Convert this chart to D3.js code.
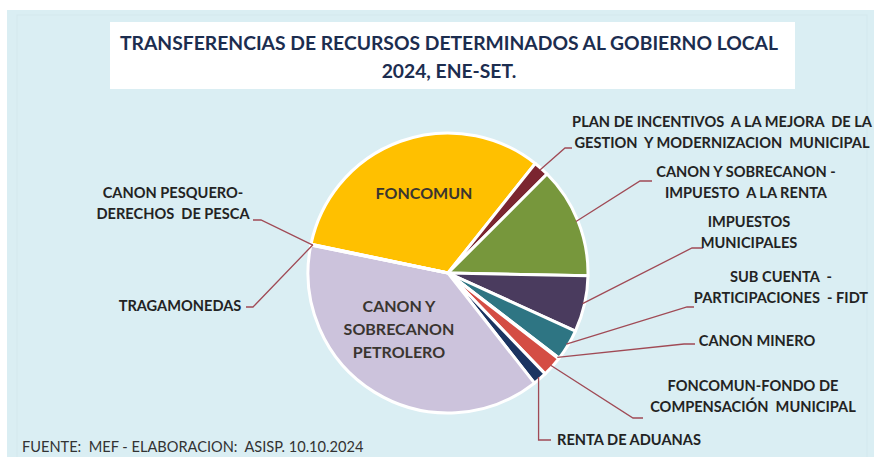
<!DOCTYPE html>
<html>
<head>
<meta charset="utf-8">
<script src="https://cdn.jsdelivr.net/npm/d3@7"></script>
<style>
  html, body { margin: 0; padding: 0; background: #ffffff; }
  svg { display: block; }
  text { white-space: pre; }
</style>
</head>
<body>
<svg id="chart" width="874" height="457"></svg>
<script>
// Transfer categories, clockwise from FONCOMUN
const categories = [
  "FONCOMUN",
  "PLAN DE INCENTIVOS A LA MEJORA DE LA GESTION Y MODERNIZACION MUNICIPAL",
  "CANON Y SOBRECANON - IMPUESTO A LA RENTA",
  "IMPUESTOS MUNICIPALES",
  "SUB CUENTA - PARTICIPACIONES - FIDT",
  "CANON MINERO",
  "FONCOMUN-FONDO DE COMPENSACIÓN MUNICIPAL",
  "RENTA DE ADUANAS",
  "CANON Y SOBRECANON PETROLERO",
  "CANON PESQUERO-DERECHOS DE PESCA",
  "TRAGAMONEDAS"
];
// Share of the total (%)
const shares = [32.4, 1.8, 12.8, 6.5, 3.6, 0.1, 2.3, 1.6, 38.8, 0.05, 0.05];
// Label text as printed, line by line
const labelLines = [
  ["FONCOMUN"],
  ["PLAN DE INCENTIVOS  A LA MEJORA  DE LA", "GESTION  Y MODERNIZACION  MUNICIPAL"],
  ["CANON Y SOBRECANON -", "IMPUESTO  A LA RENTA"],
  ["IMPUESTOS", "MUNICIPALES"],
  ["SUB CUENTA  -", "PARTICIPACIONES  - FIDT"],
  ["CANON MINERO"],
  ["FONCOMUN-FONDO DE", "COMPENSACIÓN  MUNICIPAL"],
  ["RENTA DE ADUANAS"],
  ["CANON Y", "SOBRECANON", "PETROLERO"],
  ["CANON PESQUERO-", "DERECHOS  DE PESCA"],
  ["TRAGAMONEDAS"]
];
const titleLines = ["TRANSFERENCIAS DE RECURSOS DETERMINADOS AL GOBIERNO LOCAL", "2024, ENE-SET."];
const sourceNote = "FUENTE:  MEF - ELABORACION:  ASISP. 10.10.2024";

const palette = ["#ffc000", "#7b2530", "#77973c", "#4a3b5e", "#2e7583", "#8a9bb5",
                 "#d44d44", "#1b3461", "#ccc3dc", "#9bbb59", "#c0504d"];

const W = 874, H = 457;
const FONT = "Lato, 'DejaVu Sans', sans-serif";
const svg = d3.select("#chart");

// Background panels
svg.append("rect").attr("width", W).attr("height", H).attr("fill", "#ffffff");
svg.append("rect").attr("x", 7).attr("y", 10).attr("width", W - 7).attr("height", H - 10).attr("fill", "#daeef3");
svg.append("rect").attr("x", 17).attr("y", 15).attr("width", 850).attr("height", H).attr("fill", "none")
  .attr("stroke", "#d3e8ee").attr("stroke-width", 1);

// Title box
svg.append("rect").attr("x", 110).attr("y", 22).attr("width", 685).attr("height", 67).attr("fill", "#ffffff");
svg.append("g").selectAll("text").data(titleLines).join("text")
  .attr("x", 449).attr("y", (d, i) => 50 + i * 28)
  .attr("text-anchor", "middle")
  .attr("font-family", FONT).attr("font-weight", "bold").attr("font-size", 19.3)
  .attr("fill", "#1c2d4f")
  .text(d => d);

// Pie geometry
const cx = 448, cy = 273, R = 140;
const startDeg = -78.1;
const pie = d3.pie().sort(null).value(d => d)
  .startAngle(startDeg * Math.PI / 180)
  .endAngle((startDeg + 360) * Math.PI / 180);
const arcs = pie(shares);
const arc = d3.arc().innerRadius(0).outerRadius(R);

const gPie = svg.append("g").attr("transform", `translate(${cx},${cy})`);
gPie.selectAll("path").data(arcs).join("path")
  .attr("d", arc)
  .attr("fill", (d, i) => palette[i])
  .attr("stroke", "#ffffff").attr("stroke-width", 3).attr("stroke-linejoin", "round");

// Point on the rim at a slice's mid angle
function rimPoint(a, r) {
  const m = (a.startAngle + a.endAngle) / 2;
  return [cx + r * Math.sin(m), cy - r * Math.cos(m)];
}

// Label placement: text centre x, first baseline, leader elbow and end
const labelLayout = [
  { inside: true, x: 424, y: 199, size: 16 },
  { x: 722, y: 127, elbow: [565, 148], end: [572, 148] },
  { x: 746, y: 177, elbow: [640, 181], end: [652, 181] },
  { x: 749, y: 227, elbow: [692, 248], end: [703, 248] },
  { x: 781, y: 282, elbow: [687, 307], end: [694, 307] },
  { x: 757, y: 346, elbow: [684, 344], end: [695, 344] },
  { x: 753, y: 391, elbow: [633, 418], end: [643, 418] },
  { x: 629, y: 445, vertical: true, elbowY: 440, end: [551, 440] },
  { inside: true, x: 399, y: 312, size: 16 },
  { x: 173, y: 198, elbow: [261, 220], end: [253, 220] },
  { x: 180, y: 311, elbow: [253, 307], end: [246, 307] }
];

const lineH = 20.5;
const gLead = svg.append("g");
const gLab = svg.append("g");

arcs.forEach((a, i) => {
  const L = labelLayout[i];
  const lines = labelLines[i];
  const size = L.size || 14.6;
  const lh = L.inside ? 23 : lineH;
  gLab.append("g").selectAll("text").data(lines).join("text")
    .attr("x", L.x).attr("y", (d, k) => L.y + k * lh)
    .attr("text-anchor", "middle")
    .attr("font-family", FONT).attr("font-weight", "bold").attr("font-size", size)
    .attr("fill", L.inside ? "#3a3530" : "#232323")
    .text(d => d);
  if (L.inside) return;
  const p = rimPoint(a, R - 2);
  let pts;
  if (L.vertical) pts = [p, [p[0], L.elbowY], L.end];
  else pts = [p, L.elbow, L.end];
  gLead.append("path")
    .attr("d", d3.line()(pts))
    .attr("fill", "none").attr("stroke", "#a04a55").attr("stroke-width", 1.3);
});

// Source note
svg.append("text").attr("x", 22).attr("y", 452)
  .attr("font-family", FONT).attr("font-size", 14.6).attr("fill", "#333333")
  .text(sourceNote);
</script>
</body>
</html>
